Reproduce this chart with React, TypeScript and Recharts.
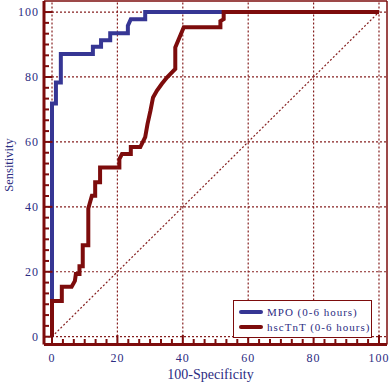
import React from "react";
import { LineChart, Line, XAxis, YAxis, ReferenceLine, Legend, Label } from "recharts";

// ROC vertices (100-specificity, sensitivity)
const mpoFpr = [0, 0, 1.2, 1.2, 2.7, 2.7, 12.5, 12.5, 15, 15, 17.8, 17.8, 23.2, 23.2, 24.1, 28.5, 28.5, 100];
const mpoSens = [0, 71.8, 71.8, 78.3, 78.3, 87.1, 87.1, 89.3, 89.3, 91.3, 91.3, 93.5, 93.5, 95.8, 97.8, 97.8, 100, 100];

const tntFpr = [
  0, 0, 3, 3, 6, 7, 7.3, 8.4, 8.4, 9.4, 9.4, 11.1, 11.1, 12.2, 13.2, 13.2, 14.7, 14.7, 20.6, 20.6, 21.4,
  24.1, 24.1, 27, 28.5, 29.2, 30.1, 30.9, 32.1, 33.6, 35.2, 37.7, 37.7, 40.3, 51.5, 51.5, 52.5, 52.5, 100,
];
const tntSens = [
  0, 11, 11, 15.4, 15.4, 17.2, 19.3, 19.3, 21.7, 21.7, 28.2, 28.2, 39.5, 43.4, 43.4, 47.6, 47.6, 52.1, 52.1, 54.7, 56.3,
  56.3, 58.4, 58.4, 61.5, 65.5, 69.6, 73.7, 75.8, 77.9, 79.9, 82.5, 89.1, 95.3, 95.3, 97.2, 97.8, 100, 100,
];

const seriesNames = ["MPO (0-6 hours)", "hscTnT (0-6 hours)"];
const majorTicks = [0, 20, 40, 60, 80, 100];
const xTitle = "100-Specificity";
const yTitle = "Sensitivity";

const MAROON = "#7d0c0c";
const GRID = "#862020";
const BLUE = "#363694";
const NAVY = "#2c2c82";
const FONT = "'Liberation Serif', 'Times New Roman', serif";

const xDomain = [-2.45, 102.45];
const yDomain = [-2.4, 103.4];

const mpoData = mpoFpr.map((x, i) => ({ x, y: mpoSens[i] }));
const tntData = tntFpr.map((x, i) => ({ x, y: tntSens[i] }));

// six minor divisions between each pair of major ticks
const allTicks = majorTicks.flatMap((t, i) =>
  i === 0
    ? [t]
    : Array.from({ length: 6 }, (_, k) => majorTicks[i - 1] + ((t - majorTicks[i - 1]) * (k + 1)) / 6)
);

function XTick({ x, y, payload }: any) {
  const major = majorTicks.includes(payload.value);
  return (
    <g>
      <line x1={x} x2={x} y1={y} y2={y - (major ? 9.5 : 5.5)} stroke={MAROON} strokeWidth={2} />
      {major && (
        <text x={x} y={y + 17} textAnchor="middle" fill={NAVY} fontSize={12} letterSpacing={1} fontFamily={FONT}>
          {payload.value}
        </text>
      )}
    </g>
  );
}

function YTick({ x, y, payload }: any) {
  const major = majorTicks.includes(payload.value);
  return (
    <g>
      <line x1={x} x2={x + (major ? 8.5 : 5)} y1={y} y2={y} stroke={MAROON} strokeWidth={2} />
      {major && (
        <text x={x - 5} y={y} dy={4} textAnchor="end" fill={NAVY} fontSize={12} letterSpacing={1} fontFamily={FONT}>
          {payload.value}
        </text>
      )}
    </g>
  );
}

function LegendBox({ payload }: any) {
  return (
    <div
      style={{
        border: `1.5px solid ${MAROON}`,
        background: "#fff",
        boxSizing: "border-box",
        width: 139,
        height: 38,
        padding: "3px 0 0 5px",
        fontFamily: FONT,
        fontSize: 11,
        letterSpacing: 1,
        color: NAVY,
      }}
    >
      {(payload || []).map((p: any) => (
        <div key={p.value} style={{ display: "flex", alignItems: "center", height: 15 }}>
          <span style={{ width: 24, height: 4, background: p.color, marginRight: 4, borderRadius: 2 }} />
          <span>{p.value}</span>
        </div>
      ))}
    </div>
  );
}

export default function App() {
  return (
    <div style={{ position: "absolute", left: 0, top: 0, background: "#fff" }}>
      <LineChart width={390} height={382} margin={{ top: 1, right: 3, left: 8, bottom: 0 }}>
        <XAxis
          type="number"
          dataKey="x"
          domain={xDomain}
          allowDataOverflow
          ticks={allTicks}
          interval={0}
          tickSize={0}
          tickMargin={0}
          tickLine={false}
          tick={<XTick />}
          height={37.5}
          axisLine={{ stroke: MAROON, strokeWidth: 3 }}
        >
          <Label
            content={({ viewBox }: any) => (
              <text
                x={viewBox.x + viewBox.width / 2 - 5}
                y={viewBox.y + viewBox.height - 3}
                textAnchor="middle"
                fill={NAVY}
                fontSize={14}
                fontFamily={FONT}
              >
                {xTitle}
              </text>
            )}
          />
        </XAxis>
        <YAxis
          type="number"
          dataKey="y"
          domain={yDomain}
          allowDataOverflow
          ticks={allTicks}
          interval={0}
          tickSize={0}
          tickMargin={0}
          tickLine={false}
          tick={<YTick />}
          width={36}
          axisLine={{ stroke: MAROON, strokeWidth: 3 }}
        >
          <Label
            content={() => (
              <text
                x={12.5}
                y={165}
                transform="rotate(-90, 12.5, 165)"
                textAnchor="middle"
                fill={NAVY}
                fontSize={12.5}
                fontFamily={FONT}
              >
                {yTitle}
              </text>
            )}
          />
        </YAxis>

        {majorTicks.map((t) => (
          <ReferenceLine key={`gx${t}`} x={t} stroke={GRID} strokeWidth={1.2} strokeDasharray="2 2" />
        ))}
        {majorTicks.map((t) => (
          <ReferenceLine key={`gy${t}`} y={t} stroke={GRID} strokeWidth={1.2} strokeDasharray="2 2" />
        ))}
        <ReferenceLine
          segment={[
            { x: 0, y: 0 },
            { x: 100, y: 100 },
          ]}
          stroke={GRID}
          strokeWidth={1.2}
          strokeDasharray="2 2"
        />
        <ReferenceLine y={yDomain[1]} stroke={MAROON} strokeWidth={1.5} />
        <ReferenceLine x={xDomain[1]} stroke={MAROON} strokeWidth={1.5} />

        <Line
          data={mpoData}
          dataKey="y"
          name={seriesNames[0]}
          type="linear"
          stroke={BLUE}
          strokeWidth={4}
          dot={false}
          activeDot={false}
          isAnimationActive={false}
        />
        <Line
          data={tntData}
          dataKey="y"
          name={seriesNames[1]}
          type="linear"
          stroke={MAROON}
          strokeWidth={4}
          dot={false}
          activeDot={false}
          isAnimationActive={false}
        />
        <Legend
          layout="vertical"
          align="center"
          verticalAlign="middle"
          content={<LegendBox />}
          wrapperStyle={{ left: 233, top: 300, width: 139, height: 38 }}
        />
      </LineChart>
    </div>
  );
}
